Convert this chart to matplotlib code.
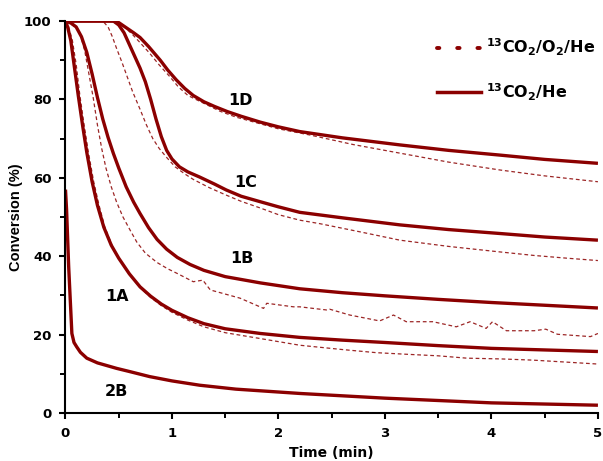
import matplotlib
matplotlib.use("Agg")
import matplotlib.pyplot as plt
from matplotlib.lines import Line2D
from matplotlib.ticker import MultipleLocator

plt.rcParams['font.family'] = ['DejaVu Sans']
plt.rcParams['font.weight'] = 'bold'
plt.rcParams['mathtext.fontset'] = 'dejavusans'
plt.rcParams['mathtext.default'] = 'bf'

# ---------------- data (time in min, conversion in %) ----------------
t_1A = [0, 0.02, 0.05, 0.08, 0.12, 0.16, 0.2, 0.25, 0.3, 0.36, 0.43, 0.5, 0.6, 0.7, 0.8, 0.9, 1.0,
        1.15, 1.3, 1.5, 1.83, 2.2, 2.6, 3.0, 3.5, 4.0, 4.5, 5.0]
y_1A = [100, 98.5, 95, 89, 81, 73.5, 66.5, 59, 53, 47.4, 42.8, 39.5, 35.5, 32.2, 29.8, 27.8, 26.2,
        24.3, 22.8, 21.5, 20.3, 19.3, 18.6, 18.0, 17.2, 16.5, 16.1, 15.7]

t_1A_o2 = [0, 0.03, 0.065, 0.1, 0.135, 0.175, 0.215, 0.265, 0.315, 0.37, 0.44, 0.5, 0.6, 0.7, 0.8, 0.9, 1.0,
           1.15, 1.3, 1.5, 1.83, 2.2, 2.6, 2.92, 3.2, 3.5, 3.77, 4.1, 4.39, 4.7, 5.0]
y_1A_o2 = [100, 98.5, 95, 89, 81, 73.5, 66.5, 59, 53, 47.4, 42.6, 39.5, 35.4, 32.0, 29.5, 27.4, 25.7,
           23.7, 22.0, 20.5, 19.0, 17.3, 16.2, 15.4, 15.0, 14.6, 14.0, 13.8, 13.5, 13.0, 12.5]

t_1B = [0, 0.05, 0.1, 0.15, 0.2, 0.25, 0.3, 0.35, 0.4, 0.45, 0.5, 0.57, 0.64, 0.7, 0.78, 0.86, 0.95,
        1.05, 1.17, 1.3, 1.5, 1.83, 2.2, 2.6, 3.0, 3.5, 4.0, 4.5, 5.0]
y_1B = [100, 99.5, 98.5, 96, 92, 86.5, 80.5, 75, 70.3, 66.2, 62.5, 57.7, 53.8, 50.9, 47.3, 44.3, 41.8,
        39.7, 37.9, 36.4, 34.8, 33.2, 31.7, 30.7, 29.9, 29.0, 28.2, 27.5, 26.8]

t_1B_o2 = [0, 0.05, 0.1, 0.14, 0.18, 0.22, 0.26, 0.3, 0.34, 0.38, 0.43, 0.48, 0.54, 0.61, 0.67, 0.75, 0.86,
           0.96, 1.05, 1.2, 1.29, 1.36, 1.64, 1.86, 1.89, 2.14, 2.2, 2.45, 2.48, 2.67, 2.95, 3.08, 3.2,
           3.45, 3.67, 3.8, 3.95, 4.01, 4.14, 4.4, 4.51, 4.62, 4.93, 5.0]
y_1B_o2 = [100, 99.3, 98.3, 96.5, 92.5, 86.5, 80.5, 73.5, 67.5, 62.5, 57.7, 53.8, 50, 46.5, 43.6, 40.8, 38.4,
           36.8, 35.6, 33.5, 33.9, 31.4, 29.3, 26.7, 28, 27.1, 27.1, 26.3, 26.5, 25, 23.5, 25, 23.3,
           23.3, 22, 23.3, 21.6, 23.3, 21, 21, 21.4, 20.1, 19.5, 20.3]

t_1C = [0, 0.45, 0.5, 0.55, 0.6, 0.65, 0.7, 0.75, 0.8, 0.85, 0.9, 0.95, 1.0, 1.07, 1.15, 1.26, 1.4, 1.51,
        1.65, 1.83, 2.0, 2.2, 2.6, 3.14, 3.6, 4.08, 4.5, 5.0]
y_1C = [100, 100, 99, 97, 94, 91, 88, 84.5, 80, 75, 70.5, 67, 64.8, 62.8, 61.5, 60.2, 58.4, 56.9,
        55.3, 53.9, 52.6, 51.2, 49.8, 48, 46.8, 45.8, 44.9, 44.1]

t_1C_o2 = [0, 0.35, 0.40, 0.44, 0.48, 0.53, 0.57, 0.63, 0.70, 0.76, 0.82, 0.88, 0.95, 1.03, 1.12, 1.2, 1.35,
           1.5, 1.65, 1.83, 2.0, 2.2, 2.39, 2.77, 3.14, 3.6, 4.08, 4.4, 4.71, 5.0]
y_1C_o2 = [100, 100, 98.5, 96, 93, 89.5, 86.5, 82, 77.5, 73.5, 70, 67.5, 65.2, 62.8, 61, 59.6, 57.5,
           55.7, 54, 52.3, 50.6, 49.2, 48.3, 46.2, 44.1, 42.5, 41.1, 40.2, 39.5, 38.9]

t_1D = [0, 0.45, 0.5, 0.57, 0.64, 0.70, 0.78, 0.89, 0.96, 1.04, 1.12, 1.20, 1.30, 1.4, 1.52, 1.65, 1.83,
        2.0, 2.2, 2.6, 3.14, 3.6, 4.08, 4.5, 5.0]
y_1D = [100, 100, 99.6, 98.3, 97, 95.8, 93.5, 90, 87.5, 85, 82.8, 81, 79.4, 78.2, 76.9, 75.7, 74.2,
        73, 71.8, 70.2, 68.4, 67, 65.8, 64.7, 63.7]

t_1D_o2 = [0, 0.42, 0.47, 0.55, 0.635, 0.7, 0.79, 0.88, 0.98, 1.06, 1.15, 1.3, 1.45, 1.6, 1.8, 2.0, 2.3,
           2.7, 3.14, 3.6, 4.08, 4.5, 5.0]
y_1D_o2 = [100, 100, 99.7, 98.6, 96.4, 94.5, 91.8, 88.8, 85.8, 83.2, 81, 79, 77, 75.5, 74, 72.5, 70.9,
           68.5, 66.3, 64, 62, 60.5, 59]

t_2B = [0, 0.01, 0.03, 0.06, 0.08, 0.105, 0.14, 0.2, 0.3, 0.48, 0.6, 0.79, 1.0, 1.26, 1.6, 2.2, 3.0, 4.0, 5.0]
y_2B = [57, 52, 37.3, 20.3, 18, 16.9, 15.5, 14, 12.8, 11.4, 10.6, 9.3, 8.2, 7.1, 6.1, 5.0, 3.8, 2.6, 2.0]

labels = ['1A', '1B', '1C', '1D', '2B']
label_t = [0.48, 1.66, 1.69, 1.64, 0.48]
label_y = [29.8, 39.5, 58.7, 79.8, 5.6]

legend_labels = [r'$^{13}$CO$_2$/O$_2$/He', r'$^{13}$CO$_2$/He']

# ---------------- plot ----------------
RED = '#8B0000'
fig = plt.figure(figsize=(6.03, 4.61), dpi=100)
ax = fig.add_axes([0.1086, 0.104, 0.883, 0.8504])

dash_kw = dict(color=RED, lw=0.9, linestyle=(0, (3, 2.2)), alpha=0.85)
solid_kw = dict(color=RED, lw=2.4, solid_capstyle='butt', solid_joinstyle='round')

for t, y in [(t_1A_o2, y_1A_o2), (t_1B_o2, y_1B_o2), (t_1C_o2, y_1C_o2), (t_1D_o2, y_1D_o2)]:
    ax.plot(t, y, **dash_kw)
for t, y in [(t_1A, y_1A), (t_1B, y_1B), (t_1C, y_1C), (t_1D, y_1D), (t_2B, y_2B)]:
    ax.plot(t, y, **solid_kw)

for lab, tx, ty in zip(labels, label_t, label_y):
    ax.text(tx, ty, lab, ha='center', va='center', fontsize=11.5, fontweight='bold')

ax.set_xlim(0, 5)
ax.set_ylim(0, 100)
ax.xaxis.set_major_locator(MultipleLocator(1))
ax.xaxis.set_minor_locator(MultipleLocator(0.5))
ax.yaxis.set_major_locator(MultipleLocator(20))
ax.yaxis.set_minor_locator(MultipleLocator(10))
for s in ['top', 'right']:
    ax.spines[s].set_visible(False)
for s in ['left', 'bottom']:
    ax.spines[s].set_linewidth(1.5)
ax.tick_params(which='major', direction='out', length=4.5, width=1.5, labelsize=9.5, pad=5.5)
ax.tick_params(which='minor', direction='out', length=3.5, width=1.4)
for lbl in ax.get_xticklabels() + ax.get_yticklabels():
    lbl.set_fontweight('bold')
ax.set_xlabel('Time (min)', fontsize=10, fontweight='bold', labelpad=4)
ax.set_ylabel('Conversion (%)', fontsize=10.5, fontweight='bold', labelpad=0.5,
              family=['Liberation Sans', 'DejaVu Sans'])

handles = [Line2D([], [], color=RED, lw=2.8, linestyle=(0, (0.6, 4.6)), dash_capstyle='round'),
           Line2D([], [], color=RED, lw=2.5)]
ax.legend(handles, legend_labels, loc='upper right', bbox_to_anchor=(0.995, 0.96),
          borderaxespad=0, borderpad=0, frameon=False, fontsize=11.5, handlelength=2.8,
          labelspacing=1.45, handletextpad=0.3)

fig.savefig('out.png', dpi=100)
